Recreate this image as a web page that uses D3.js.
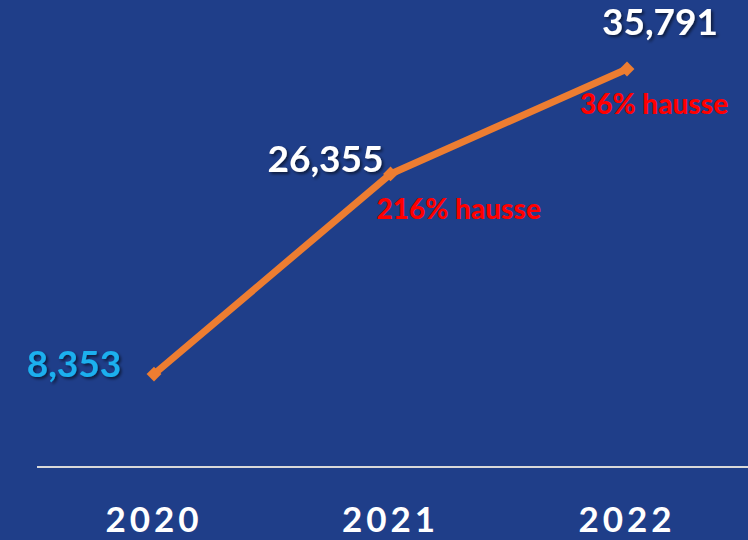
<!DOCTYPE html>
<html>
<head>
<meta charset="utf-8">
<script src="https://cdn.jsdelivr.net/npm/d3@7"></script>
<style>
	body { margin: 0; background: #1f3e89; }
	svg { display: block; }
	text { font-family: Lato, "Open Sans", sans-serif; font-weight: bold; }
</style>
</head>
<body>
<svg width="748" height="540"></svg>
<script>
const YEARS = ['2020', '2021', '2022'];
const VALUES = [8353, 26355, 35791];
const VALUE_LABELS = ['8,353', '26,355', '35,791'];
const GROWTH_LABELS = ['', '216% hausse', '36% hausse'];

const svg = d3.select('svg');

/* drop shadow for the value labels */
const defs = svg.append('defs');
const f = defs.append('filter').attr('id', 'shadow')
	.attr('x', '-10%').attr('y', '-10%').attr('width', '130%').attr('height', '140%');
f.append('feDropShadow')
	.attr('dx', 2).attr('dy', 2).attr('stdDeviation', 1.5)
	.attr('flood-color', '#000').attr('flood-opacity', 0.55);

const x = d3.scalePoint().domain(YEARS).range([154, 627]);
const y = d3.scaleLinear().domain([0, 42000]).range([467, 0]);

/* baseline */
svg.append('line')
	.attr('x1', 37).attr('x2', 748)
	.attr('y1', y(0)).attr('y2', y(0))
	.style('stroke', '#d9d9d9').style('stroke-width', 2);

/* year labels */
svg.selectAll('text.year')
	.data(YEARS)
	.enter().append('text')
		.attr('class', 'year')
		.attr('x', d => x(d))
		.attr('y', 532)
		.attr('text-anchor', 'middle')
		.style('font-size', '35px')
		.style('letter-spacing', '4px')
		.style('fill', '#ffffff')
		.text(d => d);

const data = YEARS.map((yr, i) => ({ year: yr, value: VALUES[i], label: VALUE_LABELS[i], growth: GROWTH_LABELS[i] }));

const line = d3.line()
	.x(d => x(d.year))
	.y(d => y(d.value));

svg.append('path')
	.datum(data)
	.attr('d', line)
	.style('fill', 'none')
	.style('stroke', '#ed7d31')
	.style('stroke-width', 7)
	.style('stroke-linejoin', 'round');

svg.selectAll('path.marker')
	.data(data)
	.enter().append('path')
		.attr('class', 'marker')
		.attr('d', d3.symbol().type(d3.symbolSquare).size(110))
		.attr('transform', d => `translate(${x(d.year)},${y(d.value)}) rotate(45)`)
		.style('fill', '#ed7d31');

/* value labels: position relative to the point */
const labelPos = [
	{ dx: -80, dy: 3, anchor: 'middle', color: '#1ab0ee' },
	{ dx: -7, dy: -2, anchor: 'end', color: '#ffffff' },
	{ dx: 33, dy: -34, anchor: 'middle', color: '#ffffff' }
];
svg.selectAll('text.value')
	.data(data)
	.enter().append('text')
		.attr('class', 'value')
		.attr('x', (d, i) => x(d.year) + labelPos[i].dx)
		.attr('y', (d, i) => y(d.value) + labelPos[i].dy)
		.attr('text-anchor', (d, i) => labelPos[i].anchor)
		.attr('filter', 'url(#shadow)')
		.style('font-size', '37px')
		.style('fill', (d, i) => labelPos[i].color)
		.text(d => d.label);

/* growth labels */
const growthDx = [0, -14, -47];
svg.selectAll('text.growth')
	.data(data)
	.enter().append('text')
		.attr('class', 'growth')
		.attr('x', (d, i) => x(d.year) + growthDx[i])
		.attr('y', d => y(d.value) + 45)
		.style('font-size', '28px')
		.style('font-weight', 900)
		.style('fill', '#ff0000')
		.text(d => d.growth);
</script>
</body>
</html>
